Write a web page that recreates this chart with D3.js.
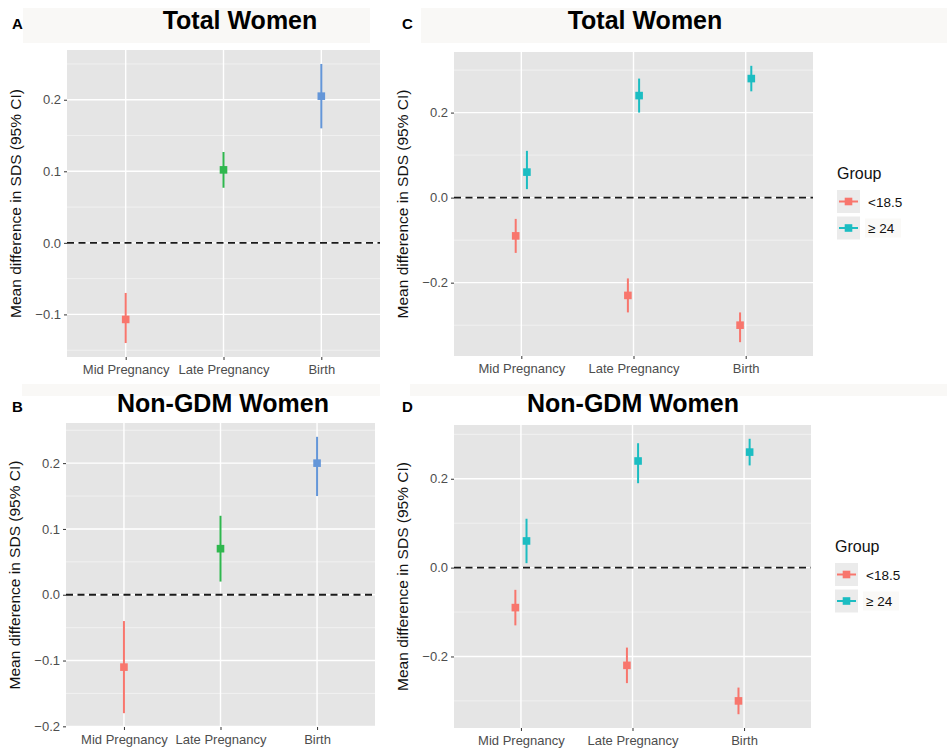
<!doctype html>
<html>
<head>
<meta charset="utf-8">
<script src="https://cdn.jsdelivr.net/npm/d3@7"></script>
<style>
  body { margin: 0; background: #fff; }
  svg { font-family: "Liberation Sans", Arial, sans-serif; }
</style>
</head>
<body>
<svg id="chart" width="947" height="749"></svg>
<script>
const stages = ["Mid Pregnancy", "Late Pregnancy", "Birth"];
const stageColors = ["#F8766D", "#2fb74e", "#6496d8"];

// A: total women
const totalMean = [-0.107, 0.102, 0.205];
const totalLow = [-0.14, 0.077, 0.16];
const totalHigh = [-0.07, 0.127, 0.25];

// B: non-GDM women
const nonGdmMean = [-0.11, 0.07, 0.2];
const nonGdmLow = [-0.18, 0.02, 0.15];
const nonGdmHigh = [-0.04, 0.12, 0.24];

const groups = ["<18.5", "≥ 24"];
const groupColors = ["#F8766D", "#1cbdc2"];

// C: total women by BMI group
const totalUnderMean = [-0.09, -0.23, -0.30];
const totalUnderLow = [-0.13, -0.27, -0.34];
const totalUnderHigh = [-0.05, -0.19, -0.27];
const totalOverMean = [0.06, 0.24, 0.28];
const totalOverLow = [0.02, 0.20, 0.25];
const totalOverHigh = [0.11, 0.28, 0.31];

// D: non-GDM women by BMI group
const nonGdmUnderMean = [-0.09, -0.22, -0.30];
const nonGdmUnderLow = [-0.13, -0.26, -0.33];
const nonGdmUnderHigh = [-0.05, -0.18, -0.27];
const nonGdmOverMean = [0.06, 0.24, 0.26];
const nonGdmOverLow = [0.01, 0.19, 0.23];
const nonGdmOverHigh = [0.11, 0.28, 0.29];

const svg = d3.select("#chart");

function rows(mean, low, high, group) {
  return stages.map((s, i) => ({stage: s, mean: mean[i], low: low[i], high: high[i], group}));
}

function header({strip, title, tx, ty, letter, lx}) {
  svg.append("rect").attr("x", strip[0]).attr("y", strip[1])
      .attr("width", strip[2]).attr("height", strip[3]).attr("fill", "#f9f8f6");
  svg.append("text").attr("x", tx).attr("y", ty).attr("text-anchor", "middle")
      .attr("font-size", 25).attr("font-weight", "bold").text(title);
  svg.append("text").attr("x", lx).attr("y", ty).attr("font-size", 15)
      .attr("font-weight", "bold").text(letter);
}

function panel({box, data, color, dodge}) {
  const g = svg.append("g");
  const x = d3.scalePoint().domain(stages).range([box.x0, box.x1]).padding(0.6);
  const lo = d3.min(data, d => d.low), hi = d3.max(data, d => d.high);
  const pad = (hi - lo) * 0.05;
  const y = d3.scaleLinear().domain([lo - pad, hi + pad]).range([box.y1, box.y0]);
  const ticks = y.ticks(4);
  const step = ticks[1] - ticks[0];
  const [d0, d1] = y.domain();
  const minor = d3.range(ticks[0] - step / 2 - step * 2, d1, step).filter(v => v > d0 && v < d1);

  g.append("rect").attr("x", box.x0).attr("y", box.y0)
      .attr("width", box.x1 - box.x0).attr("height", box.y1 - box.y0).attr("fill", "#e5e5e5");

  g.selectAll(null).data(minor).join("line")
      .attr("x1", box.x0).attr("x2", box.x1)
      .attr("y1", d => y(d)).attr("y2", d => y(d))
      .attr("stroke", "#f4f4f4").attr("stroke-width", 0.8);
  g.selectAll(null).data(ticks).join("line")
      .attr("x1", box.x0).attr("x2", box.x1)
      .attr("y1", d => y(d)).attr("y2", d => y(d))
      .attr("stroke", "#fff").attr("stroke-width", 1.4);
  g.selectAll(null).data(stages).join("line")
      .attr("x1", d => x(d)).attr("x2", d => x(d))
      .attr("y1", box.y0).attr("y2", box.y1)
      .attr("stroke", "#fff").attr("stroke-width", 1.4);

  g.append("line").attr("x1", box.x0).attr("x2", box.x1)
      .attr("y1", y(0)).attr("y2", y(0))
      .attr("stroke", "#1a1a1a").attr("stroke-width", 1.8).attr("stroke-dasharray", "7,4.5");

  const yAxis = g.append("g").attr("transform", `translate(${box.x0},0)`)
      .call(d3.axisLeft(y).tickValues(ticks).tickSize(3).tickPadding(3).tickFormat(d3.format(".1f")));
  const xAxis = g.append("g").attr("transform", `translate(0,${box.y1})`)
      .call(d3.axisBottom(x).tickSize(3).tickPadding(5));
  for (const ax of [yAxis, xAxis]) {
    ax.select(".domain").remove();
    ax.selectAll(".tick line").attr("stroke", "#333");
    ax.selectAll(".tick text").attr("fill", "#4d4d4d").attr("font-size", 13)
        .attr("font-family", "Liberation Sans, Arial, sans-serif");
  }

  g.append("text")
      .attr("transform", `translate(${box.x0 - 46},${(box.y0 + box.y1) / 2}) rotate(-90)`)
      .attr("text-anchor", "middle").attr("font-size", 15.5).attr("fill", "#111")
      .text("Mean difference in SDS (95% CI)");

  const px = d => x(d.stage) + (dodge ? dodge(d) * x.step() : 0);
  g.selectAll(null).data(data).join("line")
      .attr("x1", px).attr("x2", px)
      .attr("y1", d => y(d.low)).attr("y2", d => y(d.high))
      .attr("stroke", color).attr("stroke-width", 2);
  g.selectAll(null).data(data).join("rect")
      .attr("x", d => px(d) - 3.8).attr("y", d => y(d.mean) - 3.8)
      .attr("width", 7.6).attr("height", 7.6).attr("fill", color);
}

function legend(lx, ly) {
  const g = svg.append("g");
  g.append("text").attr("x", lx).attr("y", ly - 11).attr("font-size", 16).attr("fill", "#111").text("Group");
  groups.forEach((name, i) => {
    const top = ly + i * 26.5;
    g.append("rect").attr("x", lx).attr("y", top).attr("width", 23).attr("height", 23).attr("fill", "#ebebeb");
    g.append("line").attr("x1", lx + 2).attr("x2", lx + 21).attr("y1", top + 11.5).attr("y2", top + 11.5)
        .attr("stroke", groupColors[i]).attr("stroke-width", 2);
    g.append("rect").attr("x", lx + 7.7).attr("y", top + 7.7).attr("width", 7.6).attr("height", 7.6)
        .attr("fill", groupColors[i]);
    if (i === 1) {
      g.append("rect").attr("x", lx + 28).attr("y", top + 2).attr("width", 36).attr("height", 19).attr("fill", "#faf9f7");
    }
    g.append("text").attr("x", lx + 31).attr("y", top + 16.5).attr("font-size", 13.5).attr("fill", "#111").text(name);
  });
}

const byStage = d => stageColors[stages.indexOf(d.stage)];
const byGroup = d => groupColors[groups.indexOf(d.group)];
const dodgeGroup = d => (groups.indexOf(d.group) === 0 ? -0.05 : 0.05);

header({strip: [23, 8, 347, 35], title: "Total Women", tx: 240, ty: 29, letter: "A", lx: 12});
header({strip: [22, 384, 358, 12], title: "Non-GDM Women", tx: 223, ty: 412, letter: "B", lx: 12});
header({strip: [421, 8, 526, 35], title: "Total Women", tx: 645, ty: 29, letter: "C", lx: 402});
header({strip: [410, 384, 537, 12], title: "Non-GDM Women", tx: 633, ty: 412, letter: "D", lx: 402});
// keep the B / D titles above their strips
svg.selectAll("text").raise();

panel({box: {x0: 67, x1: 380, y0: 50, y1: 357},
  data: rows(totalMean, totalLow, totalHigh, null), color: byStage});
panel({box: {x0: 66, x1: 375, y0: 423, y1: 727},
  data: rows(nonGdmMean, nonGdmLow, nonGdmHigh, null), color: byStage});
panel({box: {x0: 454, x1: 813, y0: 52, y1: 356},
  data: rows(totalUnderMean, totalUnderLow, totalUnderHigh, groups[0])
    .concat(rows(totalOverMean, totalOverLow, totalOverHigh, groups[1])),
  color: byGroup, dodge: dodgeGroup});
panel({box: {x0: 454, x1: 811, y0: 425, y1: 728},
  data: rows(nonGdmUnderMean, nonGdmUnderLow, nonGdmUnderHigh, groups[0])
    .concat(rows(nonGdmOverMean, nonGdmOverLow, nonGdmOverHigh, groups[1])),
  color: byGroup, dodge: dodgeGroup});

legend(837, 190);
legend(835, 563);
</script>
</body>
</html>
